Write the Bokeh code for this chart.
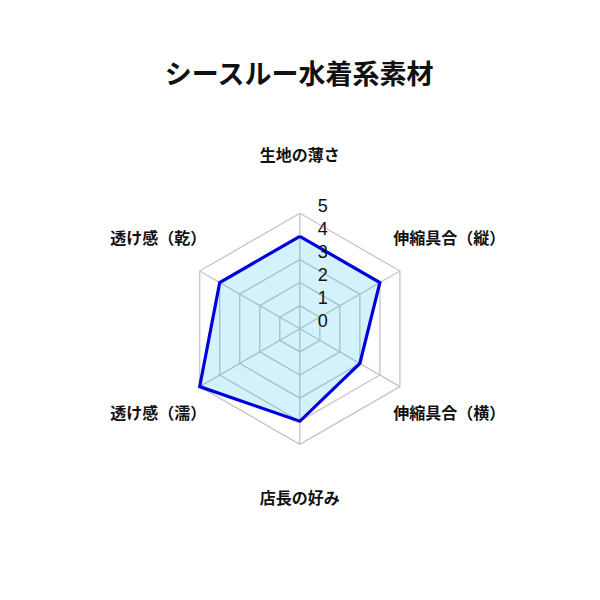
import numpy as np
from bokeh.plotting import figure
from bokeh.models import Range1d
from bokeh.core.properties import value
from bokeh.embed import file_html
from bokeh.resources import INLINE

title_text = "シースルー水着系素材"
categories = ["生地の薄さ", "伸縮具合（縦）", "伸縮具合（横）", "店長の好み", "透け感（濡）", "透け感（乾）"]
scores = [4, 4, 3, 4, 5, 4]
tick_levels = [0, 1, 2, 3, 4, 5]
tick_labels = ["0", "1", "2", "3", "4", "5"]

FONT = "Noto Sans CJK JP"
W = H = 584
S = 23.12              # px per unit
CX, CY = 299.3, 328.3  # center in frame px (from left, from top)

p = figure(width=W, height=H, output_backend="svg", toolbar_location=None,
           min_border=0, outline_line_color=None,
           x_range=Range1d(-CX / S, (W - CX) / S),
           y_range=Range1d(-(H - CY) / S, CY / S))
p.axis.visible = False
p.grid.visible = False
p.background_fill_color = "white"

n = len(categories)
ang = np.pi / 2 - np.arange(n) * 2 * np.pi / n
cs, sn = np.cos(ang), np.sin(ang)

# grid rings
rx, ry = [], []
for lv in tick_levels[1:]:
    rx.append(list(lv * cs) + [lv * cs[0]])
    ry.append(list(lv * sn) + [lv * sn[0]])
p.multi_line(rx, ry, line_color="#c4c4c4", line_width=1.3)
# spokes
mx = tick_levels[-1]
p.multi_line([[0, mx * c] for c in cs], [[0, mx * s_] for s_ in sn],
             line_color="#c4c4c4", line_width=1.3)

# data
vals = np.array(scores, dtype=float)
px_ = vals * cs
py_ = vals * sn
p.patch(list(px_), list(py_), fill_color="#00b4f0", fill_alpha=0.17, line_color=None)
p.line(list(px_) + [px_[0]], list(py_) + [py_[0]], line_color="#0000dc", line_width=3.2,
       line_join="miter")

# tick labels
p.text(x=[18.0 / S] * len(tick_levels), y=[lv + 8 / S for lv in tick_levels], text=tick_labels,
       text_font=value("Liberation Sans"), text_font_size="18px", text_color="#111111",
       text_align="left", text_baseline="middle")

# category labels
lab_x, lab_y, lab_align = [], [], []
for i in range(n):
    c = cs[i]
    if abs(c) < 1e-6:
        lab_x.append(0.0)
        lab_y.append((175.0 if sn[i] > 0 else -168.5) / S)
        lab_align.append("center")
    else:
        lab_x.append(np.sign(c) * 93.5 / S)
        lab_y.append((91.5 if sn[i] > 0 else -83.0) / S)
        lab_align.append("left" if c > 0 else "right")
for i in range(n):
    p.text(x=[lab_x[i]], y=[lab_y[i]], text=[categories[i]], text_font=value(FONT),
           text_font_size="16px", text_font_style="bold", text_color="#111111",
           text_align=lab_align[i], text_baseline="middle")

# title
p.text(x=[0.0], y=[(CY - 72.3) / S], text=[title_text], text_font=value(FONT),
       text_font_size="27px", text_font_style="bold", text_color="#111111",
       text_align="center", text_baseline="middle")

open("out.html", "w").write(file_html(p, INLINE))
